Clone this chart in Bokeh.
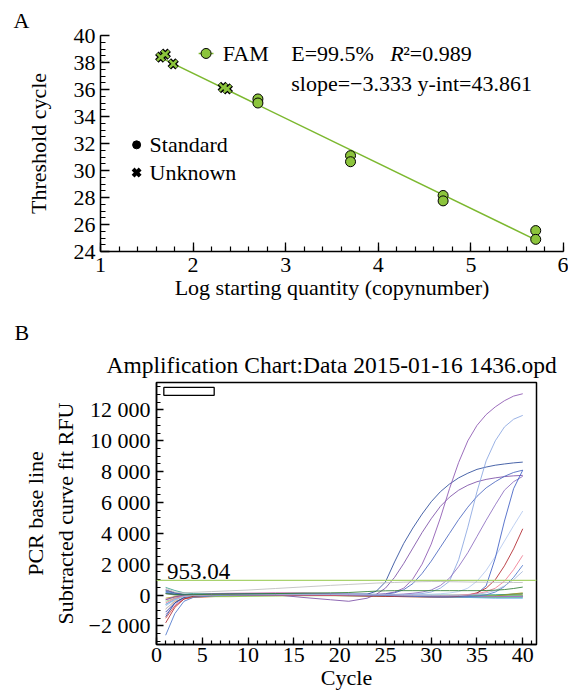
from bokeh.plotting import figure
from bokeh.layouts import column
from bokeh.models import (SingleIntervalTicker, Label, CustomJSTickFormatter,
                          Range1d, Span, Title)
from bokeh.embed import file_html
from bokeh.resources import INLINE

FONT = "'Liberation Serif', 'Times New Roman', Times, serif"
GREEN = "#8cc43c"
LINE_GREEN = "#7cb82f"

# ---------------- Panel A data (standard curve) ----------------
std_logq = [2.7, 2.7, 3.7, 3.7, 4.7, 4.7, 5.7, 5.7]
std_ct = [35.3, 35.0, 31.1, 30.65, 28.15, 27.75, 25.55, 24.9]
unk_logq = [1.65, 1.70, 1.785, 2.325, 2.37]
unk_ct = [38.4, 38.62, 37.9, 36.15, 36.05]
slope = -3.333
y_int = 43.861
efficiency = "99.5%"
r2 = "0.989"

# ---------------- Panel B data (amplification curves) ----------------
threshold = 953.04
cyc_a = [1, 2, 3, 4, 6, 8, 10, 13, 16, 19, 21, 23, 24, 25, 26, 27, 28, 29, 30,
         31, 32, 33, 34, 35, 36, 37, 38, 39, 40]
cyc_b = [1, 2, 3, 4, 6, 8, 10, 13, 16, 19, 22, 25, 28, 31, 34, 37, 40]

a1 = [-1400, -500, -150, -20, 40, 60, 70, 60, 50, 40, 30, 60, 250, 850, 2150, 3350, 4350, 5250, 6050, 6700, 7200, 7600, 7900, 8150, 8300, 8420, 8500, 8570, 8620]
a2 = [350, 150, 20, 30, 60, 70, 60, 20, -150, -300, -400, -200, 50, 450, 1150, 2050, 3050, 4050, 4950, 5750, 6350, 6800, 7120, 7350, 7500, 7600, 7680, 7730, 7760]
a3 = [-300, -120, -20, 20, 40, 40, 40, 30, 30, 20, 20, 30, 50, 90, 200, 450, 1050, 2000, 3300, 5000, 6900, 8600, 10000, 11000, 11700, 12200, 12600, 12900, 13050]
a4 = [250, 120, 50, 40, 30, 30, 20, 20, 20, 20, 20, 20, 30, 60, 150, 350, 750, 1400, 2200, 3100, 4000, 4900, 5700, 6400, 6950, 7350, 7700, 7950, 8100]
a5 = [-600, -250, -60, 0, 20, 30, 30, 20, 10, 0, 0, 0, 10, 20, 30, 40, 60, 100, 200, 450, 900, 2300, 4400, 6700, 8700, 10000, 10900, 11400, 11650]
a6 = [100, 30, 0, 10, 20, 30, 30, 30, 20, 10, 0, 0, 10, 20, 40, 70, 120, 200, 330, 620, 1100, 1850, 2750, 3800, 4850, 5850, 6800, 7350, 7700]
a7 = [-900, -350, -100, -30, 0, 20, 20, 20, 20, 10, 0, 0, 0, 10, 10, 20, 30, 40, 60, 90, 140, 230, 450, 900, 1600, 2500, 3500, 4500, 5450]
a8 = [150, 60, 20, 10, 10, 10, 0, 0, 0, -20, -30, -40, -40, -40, -50, -50, -60, -60, -70, -70, -70, -60, -40, 100, 600, 2400, 4800, 6900, 8100]
a9 = [-1800, -800, -250, -80, -30, 0, 10, 10, 0, -20, -40, -60, -70, -80, -90, -100, -110, -120, -130, -130, -120, -80, 0, 150, 450, 1000, 1900, 3000, 4300]
a10 = [-500, -200, -50, 0, 20, 30, 30, 20, 10, 0, -10, -20, -20, -20, -30, -30, -40, -40, -40, -30, -20, 0, 40, 100, 220, 450, 900, 1650, 2580]
a11 = [-2600, -1200, -400, -150, -50, 0, 40, 60, 60, 40, 20, 0, -10, -20, -40, -60, -80, -100, -120, -130, -130, -120, -100, -60, 20, 200, 550, 1150, 1940]
a12 = [-700, -300, -80, -20, 0, 10, 20, 30, 40, 40, 40, 30, 30, 20, 10, 0, -10, -20, -30, -40, -40, -30, 0, 50, 150, 300, 600, 1000, 1540]
a_grey = [450, 200, 150, 180, 230, 280, 330, 430, 530, 630, 690, 750, 780, 800, 820, 840, 860, 870, 880, 880, 870, 860, 850, 840, 840, 830, 830, 820, 820]
a_dkgreen = [100, 50, 20, 30, 50, 60, 80, 100, 130, 150, 170, 230, 260, 280, 290, 290, 290, 290, 290, 290, 290, 290, 290, 290, 300, 320, 360, 430, 520]

b1 = [-1500, -700, -250, -150, -100, -50, 0, 20, 30, 20, 0, -30, -60, -100, -120, -100, -80]
b2 = [-900, -400, -200, -150, -80, -50, -30, 0, 20, 0, -20, -50, -80, -100, -80, -50, 50]
b3 = [300, 150, 50, 0, 20, 40, 60, 80, 60, 40, 20, 0, -20, -40, -30, 0, 100]
b4 = [-600, -300, -100, -50, 0, 30, 50, 60, 50, 40, 20, 0, -20, -80, -120, -150, -150]
b5 = [100, 0, -50, -80, -100, -100, -80, -60, -40, -40, -60, -80, -100, -120, -130, -130, -120]
b6 = [-1100, -500, -150, -50, 0, 20, 30, 40, 50, 60, 50, 40, 10, -40, -60, -60, -40]
b7 = [-300, -100, 0, 50, 100, 120, 130, 150, 140, 100, 60, 20, -20, -60, -80, -90, -80]
b8 = [500, 300, 150, 100, 80, 80, 70, 60, 50, 40, 30, 20, 10, 0, 0, 20, 80]
b9 = [-400, -200, -100, -80, -60, -50, -40, -30, -20, -10, 0, 0, -10, -20, -30, -30, -30]
b10 = [-200, -100, -50, -20, 0, 20, 20, 10, 0, -10, -20, -40, -60, -70, -80, -60, 150]
b11 = [200, 50, 0, -20, -30, -20, 0, 20, 50, 80, 70, 40, 0, -60, -150, -200, -200]
b12 = [-1250, -600, -200, -60, -20, 0, 20, 40, 30, 10, -20, -40, -50, -60, -80, -90, -90]

amp_curves = [a1, a2, a3, a4, a5, a6, a7, a8, a9, a10, a11, a12, a_grey, a_dkgreen]
amp_colors = ["#2a4a9a", "#7b4fa6", "#8b55b0", "#4a66c0", "#8aa6e0", "#8c6cc0",
              "#b4c8ee", "#3f5fc4", "#b0242c", "#f07a90", "#4f78cc", "#a8b8d8",
              "#bdbdbd", "#2e7d32"]
base_curves = [b1, b2, b3, b4, b5, b6, b7, b8, b9, b10, b11, b12]
base_colors = ["#d83a3a", "#f29a2e", "#3aa04a", "#3cc0d8", "#8cc43c", "#27309a",
               "#c04898", "#2a9a88", "#7cd47c", "#a89020", "#5aa0e6", "#a080d0"]


def style_axes(p, tick_in, minor_in):
    for ax in (p.xaxis[0], p.yaxis[0]):
        ax.axis_line_width = 1.5
        ax.axis_line_color = "black"
        ax.major_tick_in = tick_in
        ax.major_tick_out = 0
        ax.minor_tick_in = minor_in
        ax.minor_tick_out = 0
        ax.major_tick_line_width = 1.3
        ax.minor_tick_line_width = 1.2
        ax.major_tick_line_color = "black"
        ax.minor_tick_line_color = "black"
        ax.major_label_text_font = FONT
        ax.major_label_text_font_size = "22px"
        ax.major_label_text_color = "black"
        ax.axis_label_text_font = FONT
        ax.axis_label_text_font_size = "22px"
        ax.axis_label_text_font_style = "normal"
        ax.axis_label_text_color = "black"


def lab(p, x, y, text, size="22px", style="normal", **kw):
    p.add_layout(Label(x=x, y=y, text=text, text_font=FONT, text_font_size=size,
                       text_font_style=style, text_color="black",
                       text_baseline=kw.pop("baseline", "middle"), **kw))


def panel_title(text, size, align, offset, standoff):
    return Title(text=text, text_font=FONT, text_font_size=size,
                 text_font_style="normal", text_color="black", align=align,
                 offset=offset, standoff=standoff)


# ---------------- Panel A ----------------
pa = figure(width=568, height=307, x_range=Range1d(1, 6), y_range=Range1d(24, 40),
            output_backend="svg", toolbar_location=None,
            min_border_left=100, min_border_right=5, min_border_top=35,
            min_border_bottom=56)
pa.frame_align = False
pa.outline_line_color = None
pa.grid.visible = False
pa.add_layout(panel_title("A", "22px", "left", -87, 6), "above")
pa.xaxis.ticker = SingleIntervalTicker(interval=1, num_minor_ticks=5)
pa.yaxis.ticker = SingleIntervalTicker(interval=2, num_minor_ticks=4)
pa.xaxis.axis_label = "Log starting quantity (copynumber)"
pa.yaxis.axis_label = "Threshold cycle"
style_axes(pa, 9, 5)
pa.xaxis.major_label_standoff = 6
pa.xaxis.axis_label_standoff = 0
pa.yaxis.major_label_standoff = 5
pa.yaxis.axis_label_standoff = 20

all_x = std_logq + unk_logq
fit_x = [min(all_x), max(all_x)]
fit_y = [slope * x + y_int for x in fit_x]
pa.line(fit_x, fit_y, line_color=LINE_GREEN, line_width=1.5)
pa.scatter(std_logq, std_ct, marker="circle", size=10, fill_color=GREEN,
           line_color="black", line_width=1)
pa.scatter(unk_logq, unk_ct, marker="x", size=11, line_color="black", line_width=5)
pa.scatter(unk_logq, unk_ct, marker="x", size=10, line_color=GREEN, line_width=2.4)

# legend keys (positions in panel-A data space)
fam_key_x = [2.06, 2.22]
fam_key_y = 38.67
pa.line(fam_key_x, [fam_key_y, fam_key_y], line_color=LINE_GREEN, line_width=1.5)
pa.scatter([sum(fam_key_x) / 2], [fam_key_y], marker="circle", size=10,
           fill_color=GREEN, line_color="black", line_width=1)
lab(pa, 2.32, fam_key_y, "FAM")
lab(pa, 3.06, fam_key_y, "E=" + efficiency)
lab(pa, 3.06, fam_key_y, "R", style="italic", x_offset=99)
lab(pa, 3.06, fam_key_y, "\u00b2=" + r2, x_offset=112)
lab(pa, 3.06, 36.44, "slope=\u2212%.3f y-int=%.3f" % (abs(slope), y_int))

key_x = 1.39
pa.scatter([key_x], [31.9], marker="circle", size=8, fill_color="black", line_color="black")
pa.scatter([key_x], [29.85], marker="x", size=10, line_color="black", line_width=4)
lab(pa, 1.53, 31.9, "Standard")
lab(pa, 1.53, 29.85, "Unknown")

# ---------------- Panel B ----------------
pb = figure(width=568, height=389, x_range=Range1d(0, 41.5),
            y_range=Range1d(-3200, 13780),
            output_backend="svg", toolbar_location=None,
            min_border_left=156, min_border_right=32, min_border_top=75,
            min_border_bottom=52)
pb.frame_align = False
pb.add_layout(panel_title("Amplification Chart:Data 2015-01-16 1436.opd", "23.5px",
                          "left", -50, 10), "above")
pb.add_layout(panel_title("B", "22px", "left", -142, 0), "above")
pb.outline_line_color = "black"
pb.outline_line_width = 1.5
pb.outline_line_alpha = 1
pb.grid.visible = False
pb.xaxis.ticker = SingleIntervalTicker(interval=5, num_minor_ticks=5)
pb.yaxis.ticker = SingleIntervalTicker(interval=2000, num_minor_ticks=4)
pb.yaxis.formatter = CustomJSTickFormatter(code=r"""
const a = Math.abs(tick);
const s = a.toFixed(0).replace(/\B(?=(\d{3})+(?!\d))/g, " ");
return (tick < 0 ? "\u2212" : "") + s;
""")
pb.xaxis.axis_label = "Cycle"
pb.yaxis.axis_label = "PCR base line\nSubtracted curve fit RFU"
style_axes(pb, 7, 4)
pb.xaxis.major_label_standoff = 3
pb.xaxis.axis_label_standoff = 0
pb.yaxis.major_label_standoff = 6
pb.yaxis.axis_label_standoff = 8

for vals, col in zip(base_curves, base_colors):
    pb.line(cyc_b, vals, line_color=col, line_width=0.9, line_alpha=0.9)
for vals, col in zip(amp_curves, amp_colors):
    pb.line(cyc_a, vals, line_color=col, line_width=0.9, line_alpha=0.95)

pb.add_layout(Span(location=threshold, dimension="width", line_color="#a9d26e",
                   line_width=1.3))
lab(pb, 1.15, threshold, "%.2f" % threshold, size="23px", baseline="bottom", y_offset=1)

# empty legend box in the upper-left corner
box_x = [0.8, 6.3]
box_y = [12950, 13460]
pb.quad(left=[box_x[0]], right=[box_x[1]], bottom=[box_y[0]], top=[box_y[1]],
        fill_color="white", line_color="black", line_width=1.3)

layout = column(pa, pb)
open("out.html", "w").write(file_html(layout, INLINE))
